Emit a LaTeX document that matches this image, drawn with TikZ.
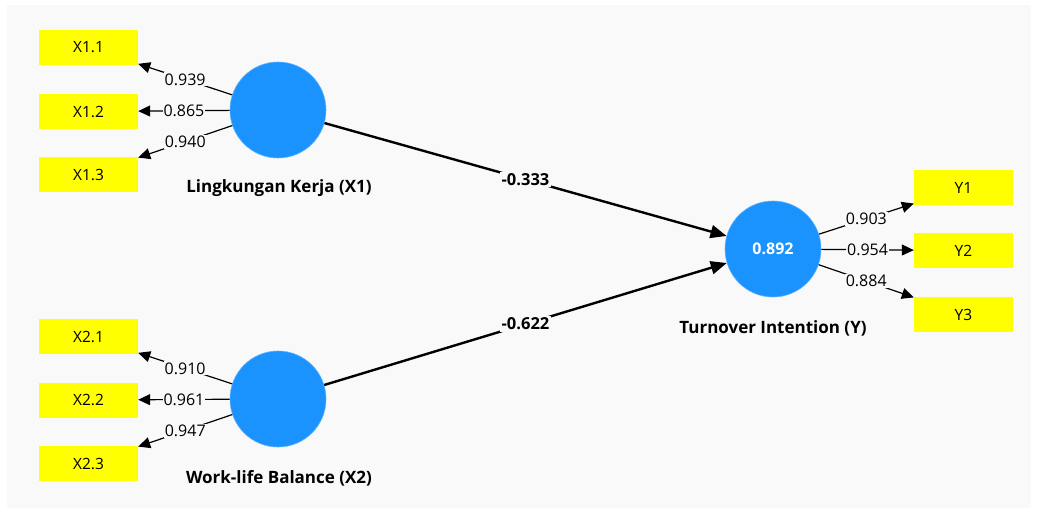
\documentclass[tikz,border=0pt]{standalone}
\usepackage{fontspec}
\setmainfont{Open Sans}
\usetikzlibrary{arrows.meta}
\definecolor{panelbg}{HTML}{F9F9F9}
\definecolor{lvblue}{HTML}{1B93FF}
\definecolor{ind}{HTML}{FFFF00}
\tikzset{
  lv/.style={circle, fill=lvblue, draw=lvblue!70!white, line width=0.6pt, minimum size=96pt, inner sep=0pt, text=white, font=\fontsize{16}{18}\selectfont\bfseries},
  indbox/.style={rectangle, fill=ind, minimum width=99pt, minimum height=35pt, inner sep=0pt, font=\fontsize{15.5}{18}\selectfont},
  lvname/.style={font=\fontsize{17}{20}\selectfont\bfseries},
  loadarr/.style={line width=1.2pt, -{Triangle[length=12pt,width=11pt]}},
  patharr/.style={line width=2.4pt, -{Triangle[length=16pt,width=13pt]}},
  loadlbl/.style={fill=panelbg, inner sep=1pt, font=\fontsize{16}{18}\selectfont},
  pathlbl/.style={fill=panelbg, inner sep=1.5pt, font=\fontsize{16.5}{19}\selectfont\bfseries},
}
\begin{document}
\begin{tikzpicture}[x=1pt,y=-1pt]
\useasboundingbox (0,0) rectangle (1038,513);
\fill[white] (0,0) rectangle (1038,513);
\fill[panelbg] (7,5) rectangle (1031,508);
% latent variables
\node[lv] (x1) at (278,110) {};
\node[lv] (x2) at (278,399) {};
\node[lv] (y) at (773,249) {0.892};
\node[lvname] (x1n) at (279,188) {Lingkungan Kerja (X1)};
\node[lvname] (x2n) at (279,478) {Work-life Balance (X2)};
\node[lvname] (yn) at (773,328) {Turnover Intention (Y)};
% indicators
\node[indbox] (x11) at (88.5,47.5) {X1.1};
\node[indbox] (x12) at (88.5,111.5) {X1.2};
\node[indbox] (x13) at (88.5,174.5) {X1.3};
\node[indbox] (x21) at (88.5,336.5) {X2.1};
\node[indbox] (x22) at (88.5,400) {X2.2};
\node[indbox] (x23) at (88.5,463.5) {X2.3};
\node[indbox] (y1) at (963.5,187.5) {Y1};
\node[indbox] (y2) at (963.5,250.5) {Y2};
\node[indbox] (y3) at (963.5,314.5) {Y3};
% loadings
\draw[loadarr] (x1) -- node[loadlbl]{0.939} (x11);
\draw[loadarr] (x1) -- node[loadlbl]{0.865} (x12);
\draw[loadarr] (x1) -- node[loadlbl]{0.940} (x13);
\draw[loadarr] (x2) -- node[loadlbl]{0.910} (x21);
\draw[loadarr] (x2) -- node[loadlbl]{0.961} (x22);
\draw[loadarr] (x2) -- node[loadlbl]{0.947} (x23);
\draw[loadarr] (y) -- node[loadlbl]{0.903} (y1);
\draw[loadarr] (y) -- node[loadlbl]{0.954} (y2);
\draw[loadarr] (y) -- node[loadlbl]{0.884} (y3);
% paths
\draw[patharr] (x1) -- node[pathlbl]{-0.333} (y);
\draw[patharr] (x2) -- node[pathlbl]{-0.622} (y);
\end{tikzpicture}
\end{document}
